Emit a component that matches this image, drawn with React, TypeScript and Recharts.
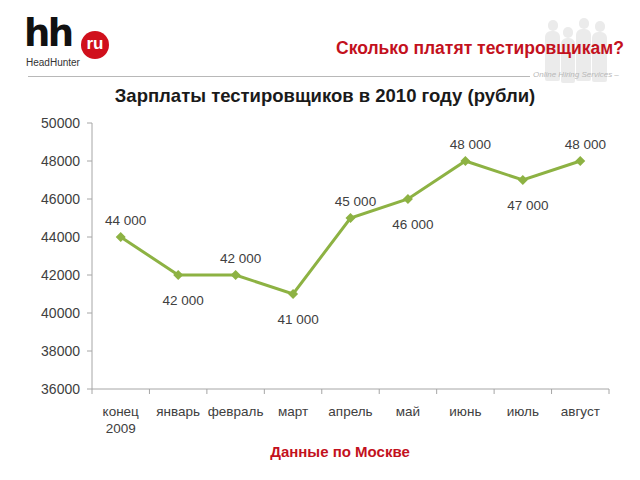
import React from "react";
import { LineChart, Line, XAxis, YAxis, LabelList } from "recharts";

document.body.style.margin = "0";

const months = ["конец\n2009", "январь", "февраль", "март", "апрель", "май", "июнь", "июль", "август"];
const salaries = [44000, 42000, 42000, 41000, 45000, 46000, 48000, 47000, 48000];
const yTicks = [36000, 38000, 40000, 42000, 44000, 46000, 48000, 50000];

const data = months.map((m, i) => ({ name: m, value: salaries[i] }));

const GREEN = "#8db243";
const TEXT = "#404040";
const AXIS = "#a6a6a6";
const RED = "#c3111d";
const FONT = "'Liberation Sans', Arial, sans-serif";

const fmt = (v: number) => {
  const s = String(v);
  return s.slice(0, s.length - 3) + " " + s.slice(-3);
};

const Diamond = (props: any) => {
  const { cx, cy, index } = props;
  if (cx == null || cy == null) return null;
  const r = 5;
  return (
    <polygon
      key={`d-${index}`}
      points={`${cx},${cy - r} ${cx + r},${cy} ${cx},${cy + r} ${cx - r},${cy}`}
      fill={GREEN}
    />
  );
};

const ValueLabel = (props: any) => {
  const { x, y, value, index } = props;
  const above = index % 2 === 0;
  return (
    <text
      x={x + 5}
      y={above ? y - 12 : y + 30}
      textAnchor="middle"
      fontSize={13.5}
      fontFamily={FONT}
      fill={TEXT}
    >
      {fmt(value)}
    </text>
  );
};

// category label plus tick marks on the band edges
const MonthTick = (props: any) => {
  const { x, y, payload, index, visibleTicksCount } = props;
  const half = payload.offset || 0;
  const lines = String(payload.value).split("\n");
  return (
    <g>
      <line x1={x - half} x2={x - half} y1={y} y2={y + 5} stroke={AXIS} />
      {index === visibleTicksCount - 1 && (
        <line x1={x + half} x2={x + half} y1={y} y2={y + 5} stroke={AXIS} />
      )}
      <text x={x} y={y + 27} textAnchor="middle" fontSize={13.5} fontFamily={FONT} fill={TEXT}>
        {lines.map((l, i) => (
          <tspan key={i} x={x} dy={i === 0 ? 0 : 17}>
            {l}
          </tspan>
        ))}
      </text>
    </g>
  );
};

const Person = ({ left, top, w, h }: { left: number; top: number; w: number; h: number }) => (
  <>
    <div style={{ position: "absolute", left: left + w / 2 - 5, top, width: 10, height: 11, borderRadius: 5, background: "#ebebeb" }} />
    <div style={{ position: "absolute", left, top: top + 11, width: w, height: h, borderRadius: "6px 6px 2px 2px", background: "#ebebeb" }} />
  </>
);

export default function App() {
  return (
    <div style={{ position: "relative", width: 640, height: 480, background: "#fff", fontFamily: FONT, overflow: "hidden" }}>
      {/* silhouettes */}
      <Person left={545} top={20} w={15} h={50} />
      <Person left={561} top={27} w={14} h={45} />
      <Person left={576} top={18} w={15} h={52} />
      <Person left={592} top={21} w={15} h={50} />

      {/* logo */}
      <div
        style={{
          position: "absolute",
          left: 24,
          top: 12,
          fontFamily: "'DejaVu Sans', sans-serif",
          fontSize: 37,
          fontWeight: 700,
          letterSpacing: -2.5,
          color: "#111",
          lineHeight: "44px",
        }}
      >
        hh
      </div>
      <div
        style={{
          position: "absolute",
          left: 81,
          top: 31,
          width: 28,
          height: 28,
          borderRadius: 14,
          background: "#d0101c",
          color: "#fff",
          fontSize: 17,
          fontWeight: 700,
          textAlign: "center",
          lineHeight: "26px",
        }}
      >
        ru
      </div>
      <div style={{ position: "absolute", left: 26, top: 57, fontSize: 10, color: "#333" }}>HeadHunter</div>

      {/* header */}
      <div style={{ position: "absolute", right: 16, top: 38, fontSize: 17.5, fontWeight: 700, color: RED }}>
        Сколько платят тестировщикам?
      </div>
      <div style={{ position: "absolute", left: 28, top: 76, width: 502, height: 1, background: "#b8b8b8" }} />
      <div style={{ position: "absolute", left: 533, top: 70, fontSize: 8, fontStyle: "italic", color: "#b8b8b8" }}>
        Online Hiring Services –
      </div>

      {/* title */}
      <div style={{ position: "absolute", left: 0, width: 650, top: 85, textAlign: "center", fontSize: 18.5, fontWeight: 700, color: "#1a1a1a" }}>
        Зарплаты тестировщиков в 2010 году (рубли)
      </div>

      <div style={{ position: "absolute", left: 0, top: 0 }}>
        <LineChart width={640} height={480} data={data} margin={{ top: 123, right: 31, bottom: 31, left: 32 }}>
          <XAxis
            dataKey="name"
            type="category"
            scale="band"
            height={60}
            stroke={AXIS}
            tickLine={false}
            tickSize={0}
            tickMargin={0}
            interval={0}
            tick={<MonthTick />}
          />
          <YAxis
            domain={[36000, 50000]}
            ticks={yTicks}
            width={60}
            stroke={AXIS}
            tickSize={5}
            tickMargin={7}
            tick={{ fontSize: 14, fill: TEXT, fontFamily: FONT }}
          />
          <Line
            dataKey="value"
            stroke={GREEN}
            strokeWidth={3}
            dot={Diamond}
            activeDot={false}
            isAnimationActive={false}
          >
            <LabelList dataKey="value" content={<ValueLabel />} />
          </Line>
        </LineChart>
      </div>

      {/* footer */}
      <div style={{ position: "absolute", left: 0, width: 680, top: 443, textAlign: "center", fontSize: 15, fontWeight: 700, color: RED }}>
        Данные по Москве
      </div>
    </div>
  );
}
